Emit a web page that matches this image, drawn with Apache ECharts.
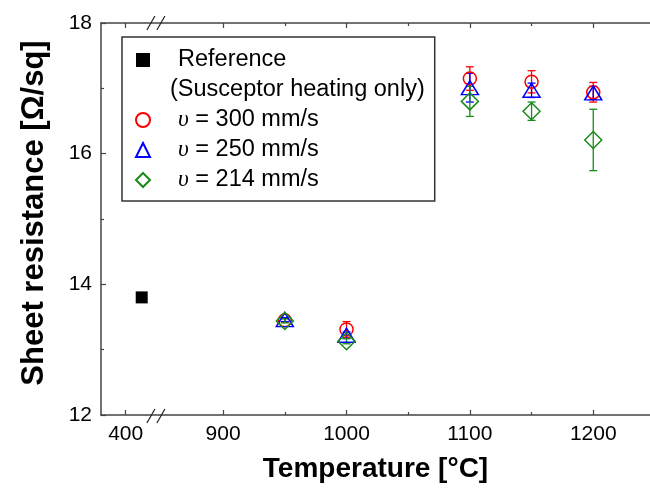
<!DOCTYPE html>
<html><head><meta charset="utf-8">
<script src="https://cdn.jsdelivr.net/npm/echarts@6/dist/echarts.min.js"></script>
<style>html,body{margin:0;padding:0;background:#fff}#c{width:650px;height:492px}</style>
</head><body><div id="c"></div>
<script>
// ---- data ----
const xTickLabels = [400, 900, 1000, 1100, 1200];
const xMinorTicks = [950, 1050, 1150];
const refTemp = [413];
const refRes = [13.8];
const temps = [950, 1000, 1100, 1150, 1200];
const res300 = [13.45, 13.31, 17.15, 17.10, 16.94];
const err300 = [0.03, 0.12, 0.18, 0.17, 0.15];
const res250 = [13.46, 13.22, 17.01, 16.97, 16.93];
const err250 = [0.03, 0.05, 0.22, 0.11, 0.10];
const res214 = [13.44, 13.13, 16.80, 16.65, 16.21];
const err214 = [0.03, 0.04, 0.23, 0.14, 0.47];
const names = ['Reference', '(Susceptor heating only)', 'υ = 300 mm/s', 'υ = 250 mm/s', 'υ = 214 mm/s'];
const xTitle = 'Temperature [°C]';
const yTitle = 'Sheet resistance [Ω/sq]';

// ---- broken x axis: low range shifted next to the high range ----
const BREAK_SHIFT = 421;
const toAxis = v => (v < 850 ? v + BREAK_SHIFT : v);
const fromAxis = a => (a < 850 ? Math.round(a - BREAK_SHIFT) : a);
const X_MIN = 801, X_MAX = 1246, BREAK_AT = 845.5;

const FONT = '"Liberation Sans", Arial, sans-serif';
const SERIF = '"Liberation Serif", "DejaVu Serif", serif';
const AX = '#444';
const colors = { r: '#ff0000', b: '#0000ff', g: '#1a8a1a', k: '#000000' };

const pts = (xs, ys) => xs.map((x, i) => [toAxis(x), ys[i]]);
const errs = (xs, ys, es) => xs.map((x, i) => [toAxis(x), ys[i] - es[i], ys[i] + es[i]]);

function errBar(data, color) {
  return {
    type: 'custom', xAxisIndex: 0, yAxisIndex: 0, data: data, z: 2,
    encode: { x: 0, y: [1, 2] }, silent: true,
    renderItem: (params, api) => {
      const x = api.value(0);
      const lo = api.coord([x, api.value(1)]);
      const hi = api.coord([x, api.value(2)]);
      const cw = 4;
      const st = { stroke: color, lineWidth: 1.3 };
      return { type: 'group', children: [
        { type: 'line', shape: { x1: lo[0], y1: lo[1], x2: hi[0], y2: hi[1] }, style: st },
        { type: 'line', shape: { x1: lo[0] - cw, y1: lo[1], x2: lo[0] + cw, y2: lo[1] }, style: st },
        { type: 'line', shape: { x1: hi[0] - cw, y1: hi[1], x2: hi[0] + cw, y2: hi[1] }, style: st }
      ]};
    }
  };
}

function scatter(name, data, symbol, size, color, filled) {
  return {
    type: 'scatter', name: name, xAxisIndex: 0, yAxisIndex: 0, data: data, z: 3,
    symbol: symbol, symbolSize: size,
    itemStyle: { color: filled ? color : 'rgba(0,0,0,0)', borderColor: color, borderWidth: filled ? 0 : 1.5, opacity: 1 },
    emphasis: { disabled: true }
  };
}

const baseX = (pos, vals, len, showLabel, showLine) => ({
  type: 'value', position: pos, min: X_MIN, max: X_MAX,
  axisLine: { show: showLine, onZero: false, lineStyle: { color: AX, width: 1.5 } },
  axisTick: { show: true, inside: true, length: len, customValues: vals.map(toAxis), lineStyle: { color: AX, width: 1.2 } },
  axisLabel: { show: showLabel, customValues: vals.map(toAxis), formatter: v => String(fromAxis(v)),
               fontSize: 21, fontFamily: FONT, color: '#000', margin: 9 },
  splitLine: { show: false }
});

const xMain = baseX('bottom', xTickLabels, 5, true, true);
Object.assign(xMain, { name: xTitle, nameLocation: 'middle', nameGap: 40,
  nameTextStyle: { fontSize: 28, fontWeight: 'bold', fontFamily: FONT, color: '#000' } });

const txt = { fontSize: 23.5, fontFamily: FONT, color: '#000', lineHeight: 24 };

const chart = echarts.init(document.getElementById('c'), null, { renderer: 'canvas' });
chart.setOption({
  animation: false,
  backgroundColor: '#fff',
  grid: { left: 101, top: 23, width: 549, height: 392, containLabel: false, outerBoundsMode: 'none' },
  xAxis: [
    xMain,
    baseX('bottom', xMinorTicks, 3, false, false),
    baseX('top', xTickLabels, 5, false, true),
    baseX('top', xMinorTicks, 3, false, false)
  ],
  yAxis: [{
    type: 'value', min: 12, max: 18, interval: 2,
    name: yTitle, nameLocation: 'middle', nameGap: 51,
    nameTextStyle: { fontSize: 31, fontWeight: 'bold', fontFamily: FONT, color: '#000', padding: [0, 0, 0, 12] },
    axisLine: { show: true, lineStyle: { color: AX, width: 1.5 } },
    axisTick: { inside: true, length: 5, lineStyle: { color: AX, width: 1.2 } },
    minorTick: { show: true, splitNumber: 2, length: 3, lineStyle: { color: AX, width: 1.2 } },
    axisLabel: { fontSize: 21, fontFamily: FONT, color: '#000', margin: 9 },
    splitLine: { show: false }
  }],
  legend: {
    orient: 'vertical', left: 122, top: 37,
    padding: [11, 10, 9, 13],
    borderColor: '#333', borderWidth: 1.5, backgroundColor: '#fff',
    itemWidth: 14, itemHeight: 14, itemGap: 6,
    selectedMode: false,
    data: [
      { name: names[0], icon: 'rect', itemStyle: { color: colors.k } },
      { name: names[1], icon: 'none' },
      { name: names[2], icon: 'circle' },
      { name: names[3], icon: 'triangle' },
      { name: names[4], icon: 'diamond' }
    ],
    formatter: n => {
      if (n === names[1]) return '{b|' + n + '}';
      if (n.charAt(0) === 'υ') return '{u|υ}{c|' + n.slice(1) + '}';
      return '{a|' + n + '}';
    },
    textStyle: Object.assign({}, txt, {
      rich: {
        a: Object.assign({}, txt, { padding: [0, 0, 0, 23] }),
        b: Object.assign({}, txt, { padding: [0, 0, 0, 15] }),
        u: Object.assign({}, txt, { fontFamily: SERIF, fontStyle: 'italic', padding: [0, 0, 0, 23] }),
        c: Object.assign({}, txt)
      }
    })
  },
  series: [
    errBar(errs(temps, res300, err300), colors.r),
    errBar(errs(temps, res250, err250), colors.b),
    errBar(errs(temps, res214, err214), colors.g),
    scatter(names[0], pts(refTemp, refRes), 'rect', 12, colors.k, true),
    { type: 'scatter', name: names[1], data: [], xAxisIndex: 0, yAxisIndex: 0, itemStyle: { color: 'rgba(0,0,0,0)' } },
    scatter(names[2], pts(temps, res300), 'circle', 13, colors.r, false),
    scatter(names[3], pts(temps, res250), 'triangle', [17, 14], colors.b, false),
    scatter(names[4], pts(temps, res214), 'diamond', [17, 17], colors.g, false)
  ]
});

// axis-break marks "//" on the bottom and top axes
const bx = chart.convertToPixel({ xAxisIndex: 0 }, BREAK_AT);
const yBot = chart.convertToPixel({ yAxisIndex: 0 }, 12);
const yTop = chart.convertToPixel({ yAxisIndex: 0 }, 18);
const slash = (cx, cy) => ({ type: 'line', shape: { x1: cx - 4, y1: cy + 7, x2: cx + 4, y2: cy - 7 },
  style: { stroke: '#222', lineWidth: 1.2 }, z: 10 });
chart.setOption({ graphic: [
  slash(bx - 5, yBot + 1), slash(bx + 5, yBot + 1),
  slash(bx - 5, yTop), slash(bx + 5, yTop)
]});
</script></body></html>
